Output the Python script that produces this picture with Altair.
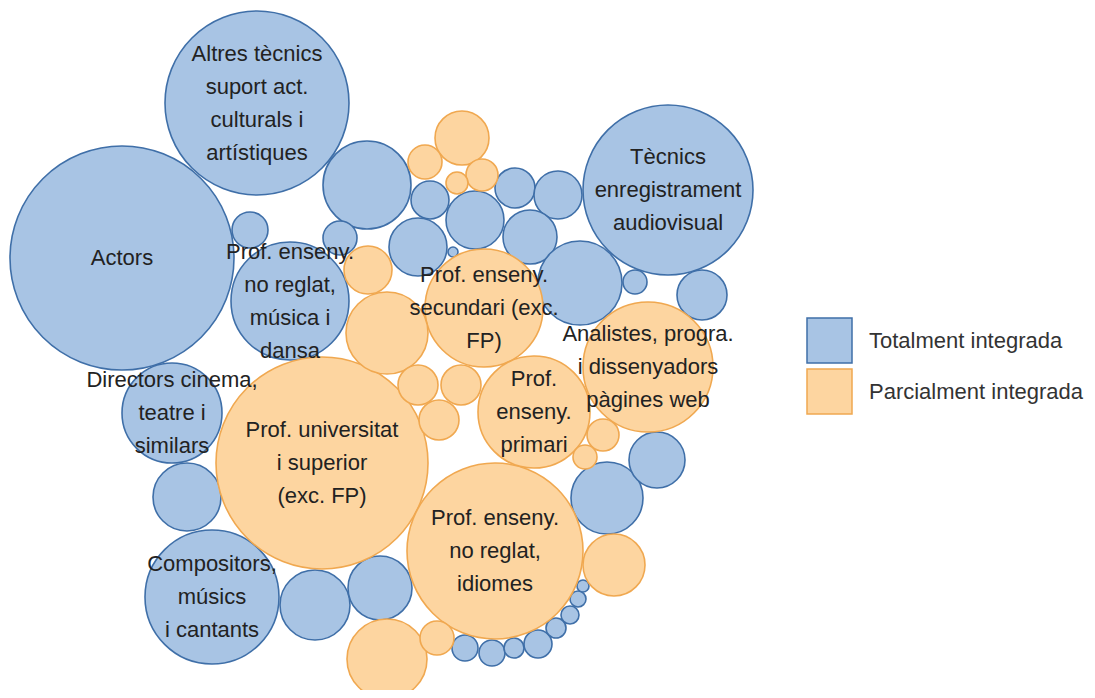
import altair as alt
import pandas as pd

# Bubble layout (centre x, centre y, radius in px)
labels = [
    "Actors", "Altres tècnics\nsuport act.\nculturals i\nartístiques",
    "Tècnics\nenregistrament\naudiovisual",
    "Prof. enseny.\nno reglat,\nmúsica i\ndansa",
    "", "", "", "", "", "", "", "", "", "", "", "", "",
    "Directors cinema,\nteatre i\nsimilars", "",
    "Compositors,\nmúsics\ni cantants", "", "",
    "", "", "", "", "", "", "", "", "", "",
    "Prof. universitat\ni superior\n(exc. FP)",
    "Prof. enseny.\nno reglat,\nidiomes",
    "Prof. enseny.\nsecundari (exc.\nFP)",
    "Prof.\nenseny.\nprimari",
    "Analistes, progra.\ni dissenyadors\npàgines web",
    "", "", "", "", "", "", "", "", "", "", "", "", "", "",
]
groups = (["Totalment integrada"] * 32) + (["Parcialment integrada"] * 19)
cx = [122, 257, 668, 290, 250, 367, 340, 430, 418, 475, 515, 558, 530, 453, 580, 635, 702,
      172, 187, 212, 315, 380,
      465, 492, 514, 538, 556, 570, 578, 583, 607, 657,
      322, 495, 484, 534, 648,
      387, 368, 418, 461, 439, 603, 585, 462, 425, 482, 457, 614, 387, 437]
cy = [258, 103, 190, 301, 230, 185, 238, 200, 247, 220, 188, 195, 237, 252, 283, 282, 295,
      413, 497, 597, 605, 588,
      648, 653, 648, 644, 628, 615, 599, 586, 498, 460,
      463, 551, 308, 412, 367,
      333, 270, 385, 385, 420, 435, 457, 138, 162, 175, 183, 565, 659, 638]
radius = [112, 92, 85, 59, 18, 44, 17, 19, 29, 29, 20, 24, 27, 5, 42, 12, 25,
          50, 34, 67, 35, 32,
          13, 13, 10, 14, 10, 9, 8, 6, 36, 28,
          106, 88, 59, 56, 65,
          41, 24, 20, 20, 20, 16, 12, 27, 17, 16, 11, 31, 40, 17]

df = pd.DataFrame({"label": labels, "group": groups, "x": cx, "y": cy, "r": radius})

W, H = 1079, 682
LINE_H = 33
xs = alt.Scale(domain=[8, 8 + W], nice=False, zero=False)
ys = alt.Scale(domain=[8, 8 + H], nice=False, zero=False, reverse=True)

dom = ["Totalment integrada", "Parcialment integrada"]
fills = ["#a8c4e4", "#fdd5a0"]
strokes = ["#3f6fa8", "#f0a850"]

legend_opts = dict(orient="none", legendX=798, legendY=309, title=None,
                   symbolType="square", symbolSize=2025,
                   labelFontSize=22, labelFont="Liberation Sans",
                   labelColor="#333333", labelOffset=16, rowPadding=0,
                   labelLimit=400, padding=0, symbolStrokeWidth=1.5)

base = alt.Chart(df)

# Vega symbol size is the bounding-box area: (2r)^2
circles = base.transform_calculate(
    area="4 * datum.r * datum.r"
).mark_circle(opacity=1, strokeWidth=1.6).encode(
    x=alt.X("x:Q", scale=xs, axis=None),
    y=alt.Y("y:Q", scale=ys, axis=None),
    size=alt.Size("area:Q", scale=None, legend=None),
    fill=alt.Fill("group:N", scale=alt.Scale(domain=dom, range=fills),
                  legend=alt.Legend(**legend_opts)),
    stroke=alt.Stroke("group:N", scale=alt.Scale(domain=dom, range=strokes),
                      legend=alt.Legend(**legend_opts)),
)

# centre the multi-line label block on the bubble centre
texts = base.transform_filter("datum.label != ''").transform_calculate(
    ty=f"datum.y - (split(datum.label, '\\n').length - 1) * {LINE_H / 2}"
).mark_text(
    lineBreak="\n", fontSize=22, font="Liberation Sans", color="#222222",
    lineHeight=LINE_H, align="center", baseline="middle"
).encode(
    x=alt.X("x:Q", scale=xs, axis=None),
    y=alt.Y("ty:Q", scale=ys, axis=None),
    text="label:N",
)

chart = alt.layer(circles, texts).properties(
    width=W, height=H, padding=0,
    autosize=alt.AutoSizeParams(type="none"),
).configure_view(strokeWidth=0)

chart.save("out.html", embed_options={"renderer": "svg", "actions": False})
